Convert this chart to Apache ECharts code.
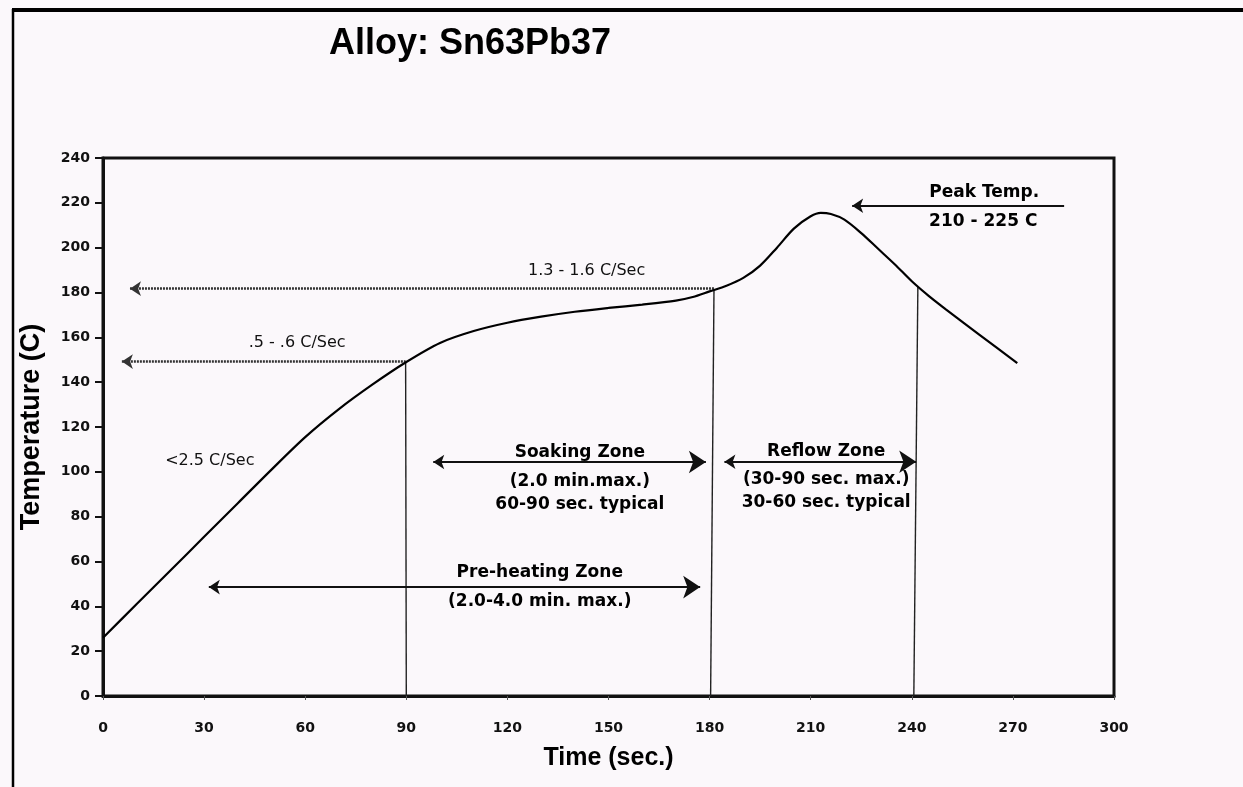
<!DOCTYPE html>
<html><head><meta charset="utf-8">
<script src="https://cdn.jsdelivr.net/npm/echarts@6/dist/echarts.min.js"></script>
<style>html,body{margin:0;padding:0;background:#fbf8fb;} #c{width:1243px;height:787px;}</style>
</head><body><div id="c"></div>
<script>
// ---- data ----
const chartTitle = 'Alloy: Sn63Pb37';
const xAxisName = 'Time (sec.)';
const yAxisName = 'Temperature (C)';
const xTickStep = 30, xMin = 0, xMax = 300;
const yTickStep = 20, yMin = 0, yMax = 240;

// reflow profile curve
const profileTime = [0, 10, 20, 30, 40, 50, 60, 70, 80, 90, 100, 110, 120, 130, 140, 150, 160, 170, 175, 180, 185, 190, 195, 200, 205, 210, 213, 216, 220, 225, 230, 235, 240, 245, 250, 260, 271.3];
const profileTemp = [26, 41, 56, 71, 86, 101, 115.5, 128, 139, 149, 157.5, 162.8, 166.5, 169.2, 171.4, 173.1, 174.6, 176.4, 178, 180.5, 183, 186.5, 192, 200, 208.5, 214, 215.5, 215, 212.5, 206.5, 199.5, 192.5, 185, 178.5, 172.6, 161.2, 148.5];

// vertical zone boundary lines [t0,T0,t1,T1]
const boundaryLines = [
  [90, 0, 89.8, 149],
  [180.3, 0, 181.3, 181],
  [240.6, 0, 241.8, 182.5]
];
// dotted rate arrows (arrow head at first point)
const rateArrows = [
  [5.6, 149.2, 89.8, 149.2],
  [8, 181.7, 181.3, 181.7]
];
// double-headed zone arrows
const zoneArrows = [
  [98, 104.4, 178.9, 104.4],
  [184.4, 104.5, 241.3, 104.5],
  [31.4, 48.6, 177.2, 48.6]
];
// peak temperature arrow (head at first point)
const peakArrow = [222.3, 218.7, 285.2, 218.7];

// annotation texts [t, T, text]
const rateLabels = [
  [57.6, 157.7, '.5 - .6 C/Sec'],
  [143.5, 189.8, '1.3 - 1.6 C/Sec'],
  [31.7, 105, '<2.5 C/Sec']
];
const zoneLabels = [
  [141.5, 108.5, 'Soaking Zone'],
  [141.5, 95.8, '(2.0 min.max.)'],
  [141.5, 85.5, '60-90 sec. typical'],
  [214.6, 108.9, 'Reflow Zone'],
  [214.6, 96.4, '(30-90 sec. max.)'],
  [214.6, 86.2, '30-60 sec. typical'],
  [129.6, 54.9, 'Pre-heating Zone'],
  [129.6, 42, '(2.0-4.0 min. max.)'],
  [261.5, 224.4, 'Peak Temp.'],
  [261.2, 211.6, '210 - 225 C']
];

// ---- chart ----
const chart = echarts.init(document.getElementById('c'), null, {renderer: 'canvas'});
const toSeg = a => ({coords: [[a[0], a[1]], [a[2], a[3]]]});

const option = {
  backgroundColor: '#fbf8fb',
  animation: false,
  title: {
    text: chartTitle, left: 324, top: 19,
    textStyle: {fontFamily: 'Liberation Sans', fontWeight: 'bold', fontSize: 36, color: '#000', lineHeight: 40}
  },
  grid: {left: 103, right: 129, top: 158, bottom: 91, show: true, borderColor: '#111', borderWidth: 3, backgroundColor: 'transparent'},
  xAxis: {
    type: 'value', min: xMin, max: xMax, interval: xTickStep,
    name: xAxisName, nameLocation: 'middle', nameGap: 50,
    nameTextStyle: {fontFamily: 'Liberation Sans', fontWeight: 'bold', fontSize: 25, color: '#000'},
    axisLine: {show: true, lineStyle: {color: '#111', width: 3}},
    axisTick: {show: true, length: 4, lineStyle: {color: '#555', width: 1}},
    axisLabel: {margin: 25, fontFamily: 'DejaVu Sans', fontWeight: 'bold', fontSize: 14, color: '#111'},
    splitLine: {show: false}
  },
  yAxis: {
    type: 'value', min: yMin, max: yMax, interval: yTickStep,
    name: yAxisName, nameLocation: 'middle', nameGap: 58,
    nameTextStyle: {fontFamily: 'Liberation Sans', fontWeight: 'bold', fontSize: 27, color: '#000'},
    axisLine: {show: true, lineStyle: {color: '#111', width: 3}},
    axisTick: {show: true, length: 8, lineStyle: {color: '#111', width: 2}},
    axisLabel: {margin: 13, fontFamily: 'DejaVu Sans', fontWeight: 'bold', fontSize: 14, color: '#111'},
    splitLine: {show: false}
  },
  graphic: [
    {type: 'line', shape: {x1: 12, y1: 10, x2: 1243, y2: 10}, style: {stroke: '#000', lineWidth: 4}},
    {type: 'line', shape: {x1: 13, y1: 9, x2: 13, y2: 787}, style: {stroke: '#000', lineWidth: 2.5}}
  ],
  series: [
    {
      type: 'line', name: 'profile', smooth: 0.3, showSymbol: false, symbol: 'none',
      data: profileTime.map((t, i) => [t, profileTemp[i]]),
      lineStyle: {color: '#000', width: 2.2}, z: 5
    },
    {
      type: 'lines', coordinateSystem: 'cartesian2d', polyline: false,
      data: boundaryLines.map(toSeg),
      lineStyle: {color: '#222', width: 1.4, opacity: 1}, symbol: ['none', 'none'], z: 3
    },
    {
      type: 'lines', coordinateSystem: 'cartesian2d',
      data: rateArrows.map(toSeg),
      lineStyle: {color: '#333', width: 2.5, type: [2, 1], opacity: 1},
      symbol: ['arrow', 'none'], symbolSize: [11, 16], z: 4
    },
    {
      type: 'lines', coordinateSystem: 'cartesian2d',
      data: zoneArrows.map(toSeg).concat([toSeg(peakArrow)].map(d => Object.assign(d, {symbol: ['arrow', 'none']}))),
      lineStyle: {color: '#111', width: 2.2, opacity: 1},
      symbol: ['arrow', 'arrow'], symbolSize: [11, 17], z: 4
    },
    {
      type: 'scatter', symbolSize: 0, silent: true, itemStyle: {opacity: 1},
      data: rateLabels.map(a => ({value: [a[0], a[1]], name: a[2]})),
      label: {show: true, position: 'inside', formatter: p => p.name,
        fontFamily: 'DejaVu Sans', fontSize: 16, color: '#111'},
      z: 6
    },
    {
      type: 'scatter', symbolSize: 0, silent: true, itemStyle: {opacity: 1},
      data: zoneLabels.map(a => ({value: [a[0], a[1]], name: a[2]})),
      label: {show: true, position: 'inside', formatter: p => p.name,
        fontFamily: 'DejaVu Sans', fontWeight: 'bold', fontSize: 17, color: '#000'},
      z: 6
    }
  ]
};
chart.setOption(option);
</script>
</body></html>
